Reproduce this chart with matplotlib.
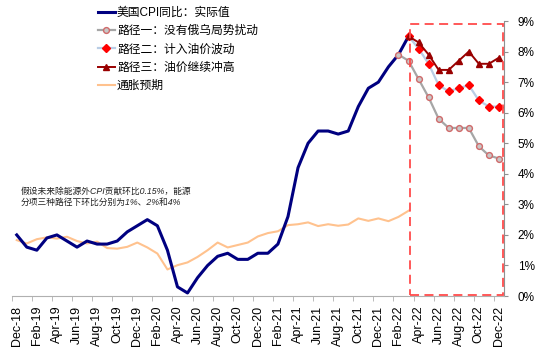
"""US CPI YoY: actual values and three oil price paths for 2022, with inflation expectations."""

import pandas as pd
import matplotlib.pyplot as plt
from matplotlib.patches import Rectangle
from matplotlib.lines import Line2D
from matplotlib.ticker import FixedLocator, PercentFormatter

plt.rcParams['font.family'] = ['Liberation Sans', 'Noto Sans CJK SC', 'DejaVu Sans']

# Month categories Dec-18 .. Dec-22
months = pd.date_range('2018-12-01', '2022-12-01', freq='MS').strftime('%b-%y').tolist()

# CPI YoY actual, Dec-18 .. Mar-22 (%)
cpi_actual = [2.0, 1.6, 1.5, 1.9, 2.0, 1.8, 1.6, 1.8, 1.7, 1.7, 1.8, 2.1, 2.3,
              2.5, 2.3, 1.5, 0.3, 0.1, 0.6, 1.0, 1.3, 1.4, 1.2, 1.2, 1.4,
              1.4, 1.7, 2.6, 4.2, 5.0, 5.4, 5.4, 5.3, 5.4, 6.2, 6.8, 7.0,
              7.5, 7.9, 8.5]

# inflation expectations, Dec-18 .. Mar-22 (%)
expectations = [1.83, 1.72, 1.86, 1.92, 1.88, 1.94, 1.80, 1.72, 1.78, 1.57, 1.55, 1.61, 1.75,
                1.59, 1.39, 0.87, 1.01, 1.10, 1.28, 1.50, 1.75, 1.59, 1.67, 1.75, 1.95,
                2.06, 2.12, 2.32, 2.35, 2.41, 2.29, 2.35, 2.30, 2.34, 2.54, 2.46, 2.54,
                2.45, 2.59, 2.79]

# path 1 (no Russia-Ukraine shock), Feb-22 .. Dec-22
path1 = [7.9, 7.7, 7.1, 6.5, 5.8, 5.5, 5.5, 5.5, 4.9, 4.6, 4.5]
# path 2 (oil price volatility), Mar-22 .. Dec-22
path2 = [8.5, 8.1, 7.6, 6.9, 6.7, 6.8, 6.9, 6.4, 6.2, 6.2]
# path 3 (oil keeps rising), Mar-22 .. Dec-22
path3 = [8.5, 8.3, 7.9, 7.4, 7.4, 7.7, 8.0, 7.6, 7.6, 7.8]

labels = ['美国CPI同比：实际值', '路径一：没有俄乌局势扰动', '路径二：计入油价波动',
          '路径三：油价继续冲高', '通胀预期']
note = '假设未来除能源外CPI贡献环比0.15%，能源\n分项三种路径下环比分别为1%、2%和4%'


def draw_chart():
    fig = plt.figure(figsize=(5.5, 3.52), dpi=100)
    ax = fig.add_axes([0.0213, 0.159, 0.895, 0.7813])

    x_hist = list(range(len(cpi_actual)))
    x_p1 = list(range(months.index('Feb-22'), len(months)))
    x_p23 = list(range(months.index('Mar-22'), len(months)))

    ax.plot(x_hist, expectations, color='#FFC28E', lw=1.5, zorder=2)
    ax.plot(x_hist, cpi_actual, color='#000080', lw=2.2, zorder=3)
    ax.plot(x_p1, path1, color='#A6A6A6', lw=1.6, marker='o', ms=4.2,
            mfc='#C8C8C8', mec='#D06A6A', mew=1, zorder=4)
    ax.plot(x_p23, path2, color='#B9CDE5', lw=1.6, marker='D', ms=4,
            mfc='#FF0000', mec='#FF0000', zorder=4)
    ax.plot(x_p23, path3, color='#990000', lw=1.4, marker='^', ms=4.5,
            mfc='#990000', mec='#990000', zorder=5)

    # dashed box round the forecast months
    ax.add_patch(Rectangle((39.15, 0.05), 9.25, 8.85, fill=False, ec='#FF4B4B',
                           lw=1.3, ls=(0, (5, 3)), clip_on=False, zorder=6))

    # axes
    ax.set_xlim(-0.5, 48.5)
    ax.set_ylim(0, 9)
    ax.yaxis.tick_right()
    ax.yaxis.set_major_locator(FixedLocator(range(10)))
    ax.yaxis.set_major_formatter(PercentFormatter(decimals=0))
    ax.tick_params(axis='y', length=3, color='#909090', pad=7, labelsize=8.5)

    ax.set_xticks(range(0, len(months), 2))
    ax.set_xticklabels(months[::2], rotation=90)
    ax.xaxis.set_minor_locator(FixedLocator([i - 0.5 for i in range(0, len(months), 2)]))
    ax.tick_params(axis='x', which='major', length=0, pad=7, labelsize=9)
    ax.tick_params(axis='x', which='minor', length=3.5, color='#B0B0B0')

    for side in ['top', 'left']:
        ax.spines[side].set_visible(False)
    ax.spines['bottom'].set_color('#B0B0B0')
    ax.spines['right'].set_color('#909090')

    # legend
    handles = [
        Line2D([], [], color='#000080', lw=2.2),
        Line2D([], [], color='#A6A6A6', lw=1.6, marker='o', ms=4.2, mfc='#C8C8C8', mec='#D06A6A'),
        Line2D([], [], color='#B9CDE5', lw=1.6, marker='D', ms=4, mfc='#FF0000', mec='#FF0000'),
        Line2D([], [], color='#990000', lw=1.4, marker='^', ms=4.5, mfc='#990000', mec='#990000'),
        Line2D([], [], color='#FFC28E', lw=1.5),
    ]
    fig.legend(handles, labels, loc='upper left', bbox_to_anchor=(0.178, 0.980),
               frameon=False, fontsize=8.5, handlelength=1.45, handletextpad=0.17,
               labelspacing=0.53, borderpad=0, borderaxespad=0)

    fig.text(0.037, 0.412, note, fontsize=6.3, style='italic', color='#222222',
             linespacing=1.35, va='bottom')

    fig.savefig('out.png', dpi=100)


if __name__ == '__main__':
    draw_chart()
